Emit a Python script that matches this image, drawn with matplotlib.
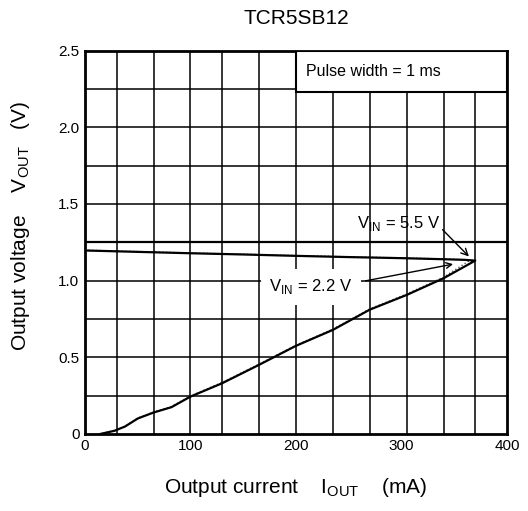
import matplotlib
matplotlib.use("Agg")
import matplotlib.pyplot as plt

plt.rcParams['font.family'] = ['Liberation Sans', 'DejaVu Sans']
plt.rcParams['mathtext.fontset'] = 'custom'
plt.rcParams['mathtext.rm'] = 'Liberation Sans'

# V_IN = 5.5 V: regulation line then foldback
iout_55 = [0, 50, 100, 150, 200, 250, 300, 340, 360, 370,
           340, 305, 270, 235, 200, 165, 130, 100, 82, 65, 50, 38, 28, 15]
vout_55 = [1.196, 1.187, 1.178, 1.170, 1.161, 1.153, 1.146, 1.139, 1.135, 1.130,
           1.015, 0.906, 0.81, 0.678, 0.574, 0.45, 0.33, 0.243, 0.174, 0.139, 0.10, 0.048, 0.02, 0.0]
# V_IN = 2.2 V: nearly identical
iout_22 = [0, 50, 100, 150, 200, 250, 300, 340, 355, 365,
           340, 305, 270, 235, 200, 165, 130, 100, 82, 65, 50, 38, 28, 15]
vout_22 = [1.198, 1.189, 1.180, 1.172, 1.163, 1.155, 1.148, 1.141, 1.137, 1.132,
           1.022, 0.912, 0.815, 0.683, 0.578, 0.455, 0.335, 0.247, 0.178, 0.142, 0.103, 0.05, 0.022, 0.0]

x_ticks = [0, 100, 200, 300, 400]
y_ticks = [0, 0.5, 1.0, 1.5, 2.0, 2.5]
y_ticklabels = ['0', '0.5', '1.0', '1.5', '2.0', '2.5']
x_grid = [30.5, 65.5, 100, 130, 165, 200, 235, 270, 305, 340, 370]
y_grid = [0.25, 0.5, 0.75, 1.0, 1.25, 1.5, 1.75, 2.0, 2.25]

fig = plt.figure(figsize=(5.28, 5.11), dpi=100)
ax = fig.add_axes([0.161, 0.151, 0.799, 0.750])
ax.set_xlim(0, 400)
ax.set_ylim(0, 2.5)

for xg in x_grid:
    ax.axvline(xg, color='black', lw=1.1, zorder=1)
for yg in y_grid:
    ax.axhline(yg, color='black', lw=1.6 if yg == 1.25 else 1.1, zorder=1)

ax.plot(iout_22, vout_22, color='#555555', lw=1.0, ls=':', zorder=3)
ax.plot(iout_55, vout_55, color='black', lw=1.6, zorder=4)

for s in ax.spines.values():
    s.set_linewidth(2.0)
ax.tick_params(length=0, labelsize=11, pad=4)
ax.set_xticks(x_ticks)
ax.set_xticklabels([str(v) for v in x_ticks])
ax.set_yticks(y_ticks)
ax.set_yticklabels(y_ticklabels)

# Pulse width box
ax.add_patch(plt.Rectangle((200, 2.228), 200, 0.272, facecolor='white',
                           edgecolor='black', lw=1.5, zorder=5))
ax.text(210, 2.365, 'Pulse width = 1 ms', fontsize=11.5, va='center', ha='left', zorder=6)

# annotations
ax.annotate('V$_{\\mathregular{IN}}$ = 5.5 V', xy=(364, 1.157), xytext=(297, 1.375),
            fontsize=12, ha='center', va='center', zorder=6,
            arrowprops=dict(arrowstyle='->', color='black', lw=1.0,
                            shrinkA=0, shrinkB=0,
                            relpos=(1.0, 0.3)))
ax.text(214, 0.96, 'V$_{\\mathregular{IN}}$ = 2.2 V', fontsize=12, ha='center', va='center',
        zorder=6, bbox=dict(facecolor='white', edgecolor='none', pad=6))
ax.annotate('', xy=(349, 1.107), xytext=(266, 0.998),
            arrowprops=dict(arrowstyle='->', color='black', lw=1.0,
                            shrinkA=0, shrinkB=0), zorder=6)

ax.set_title('TCR5SB12', fontsize=15, pad=19)
ax.set_xlabel('Output current    I$_{\\mathregular{OUT}}$    (mA)', fontsize=15, labelpad=16)
ax.set_ylabel('Output voltage    V$_{\\mathregular{OUT}}$   (V)', fontsize=15)
ax.yaxis.set_label_coords(-0.125, 0.543)

fig.savefig('out.png', dpi=100)
